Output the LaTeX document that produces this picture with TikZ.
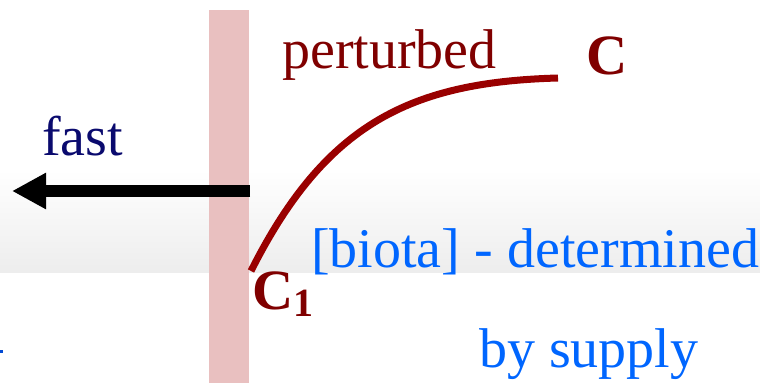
\documentclass[tikz,border=0pt]{standalone}
\usepackage{fontspec}
\setmainfont{Liberation Serif}
\usetikzlibrary{arrows.meta}
\definecolor{darkred}{RGB}{128,0,0}
\definecolor{curvered}{RGB}{153,0,0}
\definecolor{navytext}{RGB}{10,10,110}
\definecolor{bluetext}{RGB}{0,102,255}
\definecolor{barpink}{RGB}{233,192,192}
\tikzset{
  lbl/.style={anchor=base west, inner sep=0pt, font=\fontsize{56}{60}\selectfont},
  clbl/.style={anchor=base west, inner sep=0pt, text=darkred, font=\fontsize{57}{60}\selectfont\bfseries},
  fastarrow/.style={line width=12pt, -{Triangle[length=34pt,width=34pt]}},
  curveline/.style={line width=7pt, curvered}
}
\begin{document}
\begin{tikzpicture}[x=1pt,y=-1pt]
\useasboundingbox (0,0) rectangle (760,383);
\fill[white] (0,0) rectangle (760,383);
% gradient band
\shade[top color=white, bottom color=black!7] (0,170) rectangle (760,272);
% membrane bar
\fill[barpink] (209,10) rectangle (249,383);
% labels
\node[lbl, text=darkred] (perturbed) at (282,68) {perturbed};
\node[clbl] (C) at (586,74) {C};
\node[lbl, text=navytext] (fast) at (42,155) {fast};
\node[lbl, text=bluetext] (biota) at (311,267) {[biota] - determined};
\node[lbl, text=bluetext] (supply) at (479,367) {by supply};
\node[clbl] (C1) at (252,309) {C\raisebox{-0.3ex}{\fontsize{40}{40}\selectfont 1}};
% arrow
\coordinate (arrowStart) at (250,191);
\coordinate (arrowEnd) at (12,191);
\draw[fastarrow] (arrowStart) -- (arrowEnd);
% curve
\coordinate (c1pt) at (251,271);
\coordinate (cpt) at (558,78);
\draw[curveline] (c1pt) .. controls (325,124) and (410,82) .. (cpt);
% cut-off mark at left edge
\fill[bluetext!70!navytext] (0,350) rectangle (3,352.5);
\end{tikzpicture}
\end{document}
